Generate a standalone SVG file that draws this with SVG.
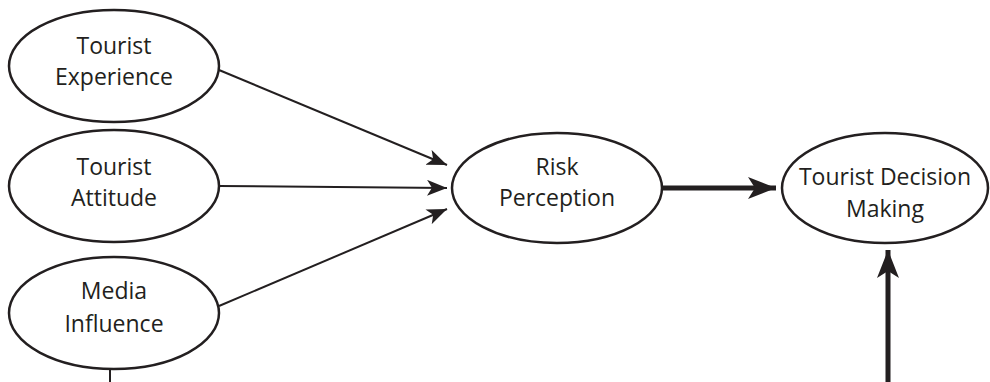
<svg xmlns="http://www.w3.org/2000/svg" width="990" height="382" viewBox="0 0 990 382">
<style>
.n{fill:#fff;stroke:#231f20;stroke-width:2.5}
.t{font-family:"Open Sans","Liberation Sans",sans-serif;font-size:23px;fill:#231f20;text-anchor:middle}
.c{stroke:#231f20;fill:none}
.thin{stroke-width:2}
.thick{stroke-width:5}
</style>
<defs>
<marker id="ah" viewBox="0 0 20 16" refX="20" refY="8" markerWidth="20" markerHeight="16" markerUnits="userSpaceOnUse" orient="auto">
<path d="M0,0 L20,8 L0,16 L5,8 Z" fill="#231f20"/>
</marker>
<marker id="ahb" viewBox="0 0 28 22" refX="28" refY="11" markerWidth="28" markerHeight="22" markerUnits="userSpaceOnUse" orient="auto">
<path d="M0,0 L28,11 L0,22 L7,11 Z" fill="#231f20"/>
</marker>
</defs>
<g id="connectors">
<line class="c thin" x1="219" y1="70" x2="447" y2="165" marker-end="url(#ah)"/>
<line class="c thin" x1="219" y1="186" x2="447" y2="188" marker-end="url(#ah)"/>
<line class="c thin" x1="219" y1="306" x2="447" y2="209" marker-end="url(#ah)"/>
<line class="c thick" x1="662" y1="188" x2="776" y2="188" marker-end="url(#ahb)"/>
<line class="c thick" x1="888" y1="382" x2="888" y2="250" marker-end="url(#ahb)"/>
<line class="c thin" x1="110" y1="370" x2="110" y2="382"/>
</g>
<g id="experience">
<ellipse class="n" cx="114" cy="66" rx="105" ry="56"/>
<text class="t" x="114" y="54">Tourist</text>
<text class="t" x="114" y="85">Experience</text>
</g>
<g id="attitude">
<ellipse class="n" cx="114" cy="186" rx="105" ry="56"/>
<text class="t" x="114" y="175">Tourist</text>
<text class="t" x="114" y="206">Attitude</text>
</g>
<g id="media">
<ellipse class="n" cx="114" cy="313" rx="105" ry="56"/>
<text class="t" x="114" y="299">Media</text>
<text class="t" x="114" y="332">Influence</text>
</g>
<g id="risk">
<ellipse class="n" cx="557" cy="188" rx="105" ry="55"/>
<text class="t" x="557" y="175">Risk</text>
<text class="t" x="557" y="206">Perception</text>
</g>
<g id="decision">
<ellipse class="n" cx="885" cy="188" rx="103" ry="55"/>
<text class="t" x="885" y="185">Tourist Decision</text>
<text class="t" x="885" y="217">Making</text>
</g>
</svg>
